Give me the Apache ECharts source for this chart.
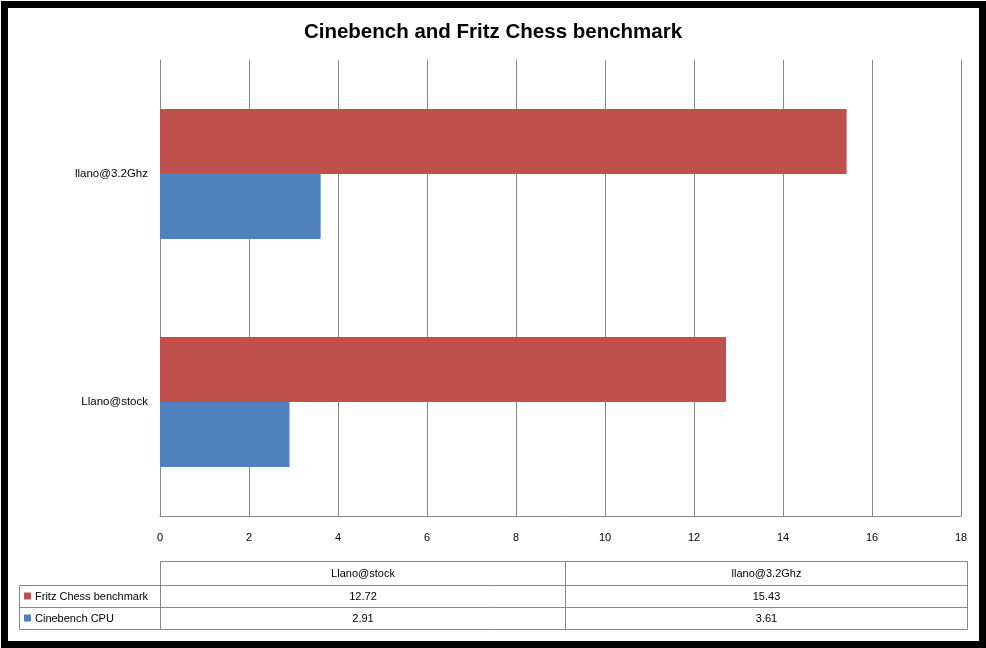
<!DOCTYPE html>
<html>
<head>
<meta charset="utf-8">
<script src="https://cdn.jsdelivr.net/npm/echarts@6/dist/echarts.min.js"></script>
<style>
html,body{margin:0;padding:0;background:#fff;}
#c{width:986px;height:648px;}
</style>
</head>
<body>
<div id="c"></div>
<script>
var titleText = 'Cinebench and Fritz Chess benchmark';
var categories = ['Llano@stock', 'llano@3.2Ghz'];
var seriesNames = ['Fritz Chess benchmark', 'Cinebench CPU'];
var fritzValues = [12.72, 15.43];
var cinebenchValues = [2.91, 3.61];
var xTicks = [0, 2, 4, 6, 8, 10, 12, 14, 16, 18];

var colors = ['#C0504D', '#4F81BD'];
var seriesValues = [fritzValues, cinebenchValues];
var FONT = 'Liberation Sans';
var GRID = '#868686';

var chart = echarts.init(document.getElementById('c'));

// Data table graphics
var tLeft = 19.5, tCol0 = 160.5, tCol1 = 565.5, tRight = 967.5;
var tTop = 561.5, tRow1 = 585.5, tRow2 = 607.5, tBottom = 629.5;
var colEdges = [tCol0, tCol1, tRight];
var rowEdges = [tRow1, tRow2, tBottom];
var g = [];
function line(x1, y1, x2, y2) {
  g.push({type: 'line', shape: {x1: x1, y1: y1, x2: x2, y2: y2}, style: {stroke: GRID, lineWidth: 1}, silent: true});
}
line(tCol0, tTop, tRight, tTop);
line(tLeft, tRow1, tRight, tRow1);
line(tLeft, tRow2, tRight, tRow2);
line(tLeft, tBottom, tRight, tBottom);
line(tLeft, tRow1, tLeft, tBottom);
line(tCol0, tTop, tCol0, tBottom);
line(tCol1, tTop, tCol1, tBottom);
line(tRight, tTop, tRight, tBottom);
categories.forEach(function (c, i) {
  g.push({type: 'text', x: (colEdges[i] + colEdges[i + 1]) / 2, y: (tTop + tRow1) / 2,
    style: {text: c, fill: '#000', font: '11px "' + FONT + '"', textAlign: 'center', textVerticalAlign: 'middle'}});
});
seriesNames.forEach(function (n, r) {
  var y0 = r === 0 ? tRow1 : tRow2, y1 = rowEdges[r + 1];
  var cy = (y0 + y1) / 2;
  g.push({type: 'rect', shape: {x: 24, y: cy - 4, width: 7, height: 7}, style: {fill: colors[r]}});
  g.push({type: 'text', x: 35, y: cy, style: {text: n, fill: '#000', font: '11px "' + FONT + '"', textAlign: 'left', textVerticalAlign: 'middle'}});
  seriesValues[r].forEach(function (v, i) {
    g.push({type: 'text', x: (colEdges[i] + colEdges[i + 1]) / 2, y: cy,
      style: {text: String(v), fill: '#000', font: '11px "' + FONT + '"', textAlign: 'center', textVerticalAlign: 'middle'}});
  });
});
// Frame
g.push({type: 'rect', shape: {x: 4.5, y: 4.5, width: 978, height: 640}, style: {fill: 'none', stroke: '#000', lineWidth: 7}, silent: true});

chart.setOption({
  animation: false,
  backgroundColor: '#fff',
  title: {
    text: titleText, left: 'center', top: 17,
    textStyle: {fontFamily: FONT, fontSize: 20.5, fontWeight: 'bold', color: '#000'}
  },
  grid: {left: 160, right: 25, top: 60, bottom: 132, containLabel: false},
  xAxis: {
    type: 'value', min: xTicks[0], max: xTicks[xTicks.length - 1], interval: xTicks[1] - xTicks[0],
    axisLine: {show: true, lineStyle: {color: GRID, width: 1}},
    axisTick: {show: false},
    axisLabel: {margin: 16, fontFamily: FONT, fontSize: 11, color: '#000'},
    splitLine: {show: true, lineStyle: {color: GRID, width: 1}}
  },
  yAxis: {
    type: 'category', data: categories,
    axisLine: {show: true, lineStyle: {color: GRID, width: 1}},
    axisTick: {show: false},
    axisLabel: {margin: 12, fontFamily: FONT, fontSize: 11.5, color: '#000'}
  },
  series: seriesNames.map(function (n, i) {
    return {
      name: n, type: 'bar', data: seriesValues[i],
      itemStyle: {color: colors[i]},
      barGap: '0%', barCategoryGap: '43%'
    };
  }),
  graphic: g
});
</script>
</body>
</html>
